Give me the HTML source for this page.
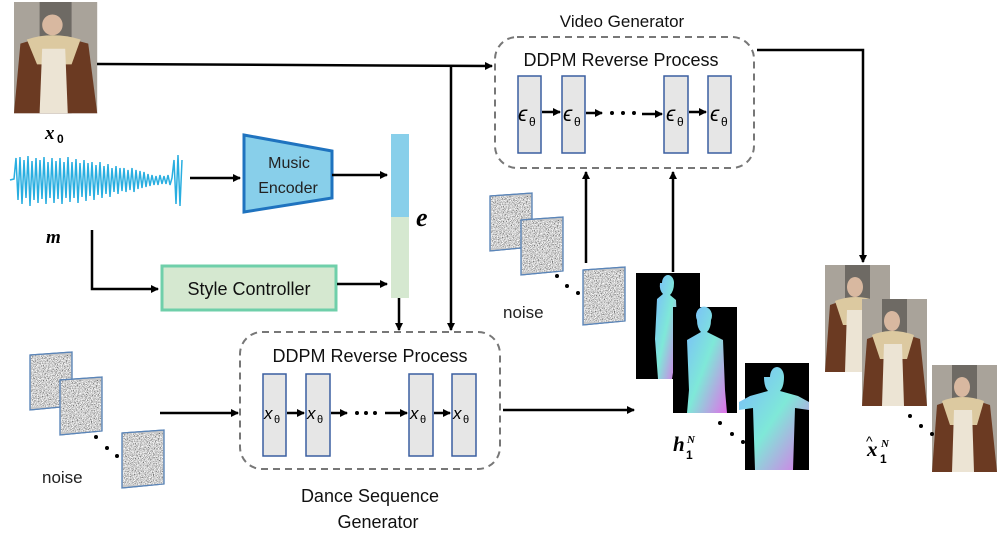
<!DOCTYPE html>
<html><head><meta charset="utf-8"><style>
html,body{margin:0;padding:0;background:#fff;width:997px;height:548px;overflow:hidden}
svg{display:block}
text{font-family:"Liberation Sans",sans-serif}
.m{font-family:"Liberation Serif",serif;font-style:italic}
</style></head><body>
<svg width="997" height="548" viewBox="0 0 997 548" xmlns="http://www.w3.org/2000/svg">
<defs>
<marker id="a" markerWidth="8" markerHeight="8" refX="7" refY="4" orient="auto" markerUnits="userSpaceOnUse"><path d="M0,0 L8,4 L0,8 z" fill="#000"/></marker>
<filter id="nz" x="0" y="0" width="100%" height="100%" filterUnits="objectBoundingBox"><feTurbulence type="fractalNoise" baseFrequency="1.2" numOctaves="2" seed="3"/><feColorMatrix type="matrix" values="2.2 0 0 0 -0.45  2.2 0 0 0 -0.45  2.2 0 0 0 -0.45  0 0 0 0 1"/></filter>
<g id="nq"><path d="M0,3 L42,0 L42,54 L0,58 z" fill="#c8c8c8" stroke="#5b85b8" stroke-width="1.2"/><rect x="1" y="3" width="40" height="52" filter="url(#nz)"/><path d="M0,3 L42,0 L42,54 L0,58 z" fill="none" stroke="#5b85b8" stroke-width="1.2"/></g>
<linearGradient id="mg" x1="0" y1="0" x2="1" y2="1"><stop offset="0" stop-color="#7ab8ff"/><stop offset="0.5" stop-color="#7fe8d8"/><stop offset="1" stop-color="#e070e8"/></linearGradient>
<g id="ph"><rect width="65" height="107" fill="#a9a39a"/><rect x="20" width="25" height="107" fill="#6e6a64"/><ellipse cx="30" cy="22" rx="8" ry="10" fill="#d8b8a0"/><path d="M5,40 Q30,30 58,40 L65,107 L0,107 z" fill="#6b3a22"/><path d="M10,36 Q30,28 52,36 L45,60 L18,60 z" fill="#dcc9a0"/><path d="M22,45 L40,45 L42,107 L20,107 z" fill="#ece4d4"/></g>
</defs>

<g transform="translate(14,2) scale(1.28,1.04)"><use href="#ph"/></g>
<text x="45" y="139" class="m" font-size="19" font-weight="bold">x</text><text x="57" y="143" font-size="12" font-weight="bold" font-family="Liberation Serif">0</text>

<path d="M10,180 L14,179 L16,158 L18,200 L20,157 L22,204 L24,160 L26,198 L28,156 L30,206 L32,161 L34,200 L36,158 L38,203 L40,160 L42,199 L44,157 L46,204 L48,162 L50,198 L52,158 L54,203 L56,161 L58,199 L60,158 L62,204 L64,162 L66,198 L68,157 L70,202 L72,162 L74,198 L76,159 L78,203 L80,163 L82,197 L84,160 L86,201 L88,163 L90,196 L92,162 L94,200 L96,165 L98,195 L100,162 L102,198 L104,166 L106,194 L108,164 L110,197 L112,168 L114,192 L116,166 L118,194 L120,168 L122,191 L124,168 L126,192 L128,170 L130,190 L132,168 L134,192 L136,170 L138,189 L140,171 L142,188 L144,172 L146,187 L148,174 L150,186 L152,175 L154,185 L156,176 L158,185 L160,175 L162,184 L164,176 L166,184 L168,175 L170,185 L172,178 L174,160 L176,204 L178,155 L180,206 L182,160" fill="none" stroke="#29aee0" stroke-width="1.5"/>
<text x="46" y="243" class="m" font-size="19" font-weight="bold">m</text>

<line x1="190" y1="178" x2="240" y2="178" stroke="#000" stroke-width="2.5" marker-end="url(#a)"/>
<path d="M244,135 L332,151 L332,198 L244,212 z" fill="#88cfea" stroke="#1f73bf" stroke-width="3"/>
<text x="289" y="168" font-size="16" text-anchor="middle" fill="#222">Music</text>
<text x="288" y="193" font-size="16" text-anchor="middle" fill="#222">Encoder</text>
<line x1="332" y1="175" x2="387" y2="175" stroke="#000" stroke-width="2.5" marker-end="url(#a)"/>

<rect x="391" y="134" width="18" height="83" fill="#88cfea"/>
<rect x="391" y="217" width="18" height="81" fill="#d5e8d0"/>
<text x="416" y="226" class="m" font-size="26" font-weight="bold">e</text>

<path d="M92,230 L92,289 L158,289" fill="none" stroke="#000" stroke-width="2.5" marker-end="url(#a)"/>
<rect x="162" y="266" width="174" height="44" fill="#d5e8d0" stroke="#6fcfaa" stroke-width="3"/>
<text x="249" y="295" font-size="18" text-anchor="middle" fill="#111">Style Controller</text>
<line x1="337" y1="284" x2="387" y2="284" stroke="#000" stroke-width="2.5" marker-end="url(#a)"/>

<line x1="97" y1="64" x2="492" y2="66" stroke="#000" stroke-width="2.5" marker-end="url(#a)"/>
<line x1="451" y1="67" x2="451" y2="330" stroke="#000" stroke-width="2.5" marker-end="url(#a)"/>
<line x1="399" y1="298" x2="399" y2="330" stroke="#000" stroke-width="2.5" marker-end="url(#a)"/>

<rect x="240" y="332" width="260" height="137" rx="22" fill="none" stroke="#777" stroke-width="2" stroke-dasharray="7,5"/>
<text x="370" y="362" font-size="18" text-anchor="middle" fill="#111">DDPM Reverse Process</text>
<g fill="#e6e6e6" stroke="#3a5fa0" stroke-width="1.5">
<rect x="263" y="374" width="23" height="82"/><rect x="306" y="374" width="24" height="82"/><rect x="409" y="374" width="24" height="82"/><rect x="452" y="374" width="24" height="82"/></g>
<g class="m" font-size="17"><text x="264" y="419">x</text><text x="307" y="419">x</text><text x="410" y="419">x</text><text x="453" y="419">x</text></g>
<g font-size="11" font-family="Liberation Serif"><text x="274" y="423">θ</text><text x="317" y="423">θ</text><text x="420" y="423">θ</text><text x="463" y="423">θ</text></g>
<g stroke="#000" stroke-width="2.5"><line x1="287" y1="413" x2="304" y2="413" marker-end="url(#a)"/><line x1="331" y1="413" x2="347" y2="413" marker-end="url(#a)"/><line x1="385" y1="413" x2="407" y2="413" marker-end="url(#a)"/><line x1="434" y1="413" x2="450" y2="413" marker-end="url(#a)"/></g>
<g fill="#000"><circle cx="357" cy="413" r="2"/><circle cx="366" cy="413" r="2"/><circle cx="375" cy="413" r="2"/></g>
<text x="370" y="502" font-size="18" text-anchor="middle" fill="#111">Dance Sequence</text>
<text x="378" y="528" font-size="18" text-anchor="middle" fill="#111">Generator</text>

<use href="#nq" x="30" y="352"/><use href="#nq" x="60" y="377"/><use href="#nq" x="122" y="430"/>
<g fill="#000"><circle cx="96" cy="437" r="2"/><circle cx="107" cy="448" r="2"/><circle cx="117" cy="456" r="2"/></g>
<text x="42" y="483" font-size="17" fill="#222">noise</text>
<line x1="160" y1="413" x2="238" y2="413" stroke="#000" stroke-width="2.5" marker-end="url(#a)"/>
<line x1="503" y1="410" x2="634" y2="410" stroke="#000" stroke-width="2.5" marker-end="url(#a)"/>

<text x="622" y="27" font-size="17" text-anchor="middle" fill="#111">Video Generator</text>
<rect x="495" y="37" width="259" height="131" rx="22" fill="none" stroke="#777" stroke-width="2" stroke-dasharray="7,5"/>
<text x="621" y="66" font-size="18" text-anchor="middle" fill="#111">DDPM Reverse Process</text>
<g fill="#e6e6e6" stroke="#3a5fa0" stroke-width="1.5">
<rect x="518" y="76" width="23" height="77"/><rect x="562" y="76" width="23" height="77"/><rect x="664" y="76" width="24" height="77"/><rect x="708" y="76" width="23" height="77"/></g>
<g class="m" font-size="21"><text x="518" y="121">ϵ</text><text x="563" y="121">ϵ</text><text x="666" y="121">ϵ</text><text x="710" y="121">ϵ</text></g>
<g font-size="12" font-family="Liberation Serif"><text x="529" y="126">θ</text><text x="574" y="126">θ</text><text x="677" y="126">θ</text><text x="721" y="126">θ</text></g>
<g stroke="#000" stroke-width="2.5"><line x1="542" y1="112" x2="560" y2="112" marker-end="url(#a)"/><line x1="586" y1="113" x2="602" y2="113" marker-end="url(#a)"/><line x1="642" y1="114" x2="662" y2="114" marker-end="url(#a)"/><line x1="689" y1="112" x2="706" y2="112" marker-end="url(#a)"/></g>
<g fill="#000"><circle cx="612" cy="113" r="2"/><circle cx="623" cy="113" r="2"/><circle cx="634" cy="113" r="2"/></g>

<line x1="586" y1="263" x2="586" y2="172" stroke="#000" stroke-width="2.5" marker-end="url(#a)"/>
<line x1="673" y1="272" x2="673" y2="172" stroke="#000" stroke-width="2.5" marker-end="url(#a)"/>
<path d="M757,50 L863,50 L863,262" fill="none" stroke="#000" stroke-width="2.5" marker-end="url(#a)"/>

<use href="#nq" x="490" y="193"/><use href="#nq" x="521" y="217"/><use href="#nq" x="583" y="267"/>
<g fill="#000"><circle cx="557" cy="276" r="2"/><circle cx="567" cy="286" r="2"/><circle cx="578" cy="293" r="2"/></g>
<text x="503" y="318" font-size="17" fill="#222">noise</text>

<rect x="636" y="273" width="64" height="106" fill="#000"/>
<path d="M662,283 a6,8 0 1,1 12,0 q0,8 -4,12 l6,5 l2,40 l-6,39 l-14,0 l-3,-40 l2,-40 l6,-5 q-4,-4 -3,-11z" fill="url(#mg)"/>
<rect x="673" y="307" width="64" height="106" fill="#000"/>
<path d="M697,320 a8,9 0 1,1 14,0 q0,8 -4,12 l16,8 l2,50 l2,23 l-40,0 l2,-23 l-2,-50 l14,-8 q-4,-4 -4,-12z" fill="url(#mg)"/>
<rect x="745" y="363" width="64" height="107" fill="#000"/>
<path d="M770,377 a7,10 0 1,1 14,0 q0,10 -4,14 l18,5 l11,6 l0,8 l-14,-2 l-2,62 l-38,0 l-2,-62 l-14,2 l0,-8 l11,-6 l18,-5 q-4,-4 -4,-14z" fill="url(#mg)"/>
<g fill="#000"><circle cx="720" cy="423" r="2"/><circle cx="732" cy="434" r="2"/><circle cx="743" cy="442" r="2"/></g>
<text x="673" y="451" class="m" font-size="21" font-weight="bold">h</text>
<text x="686" y="459" font-size="12" font-weight="bold" font-family="Liberation Serif">1</text>
<text x="687" y="443" class="m" font-size="11" font-weight="bold">N</text>

<use href="#ph" x="825" y="265"/>
<use href="#ph" x="862" y="299"/>
<use href="#ph" x="932" y="365"/>
<g fill="#000"><circle cx="910" cy="416" r="2"/><circle cx="921" cy="426" r="2"/><circle cx="932" cy="434" r="2"/></g>
<text x="867" y="456" class="m" font-size="21" font-weight="bold">x</text>
<text x="866" y="446" font-size="14" font-family="Liberation Sans">^</text>
<text x="880" y="463" font-size="12" font-weight="bold" font-family="Liberation Serif">1</text>
<text x="881" y="447" class="m" font-size="11" font-weight="bold">N</text>
</svg>
</body></html>
